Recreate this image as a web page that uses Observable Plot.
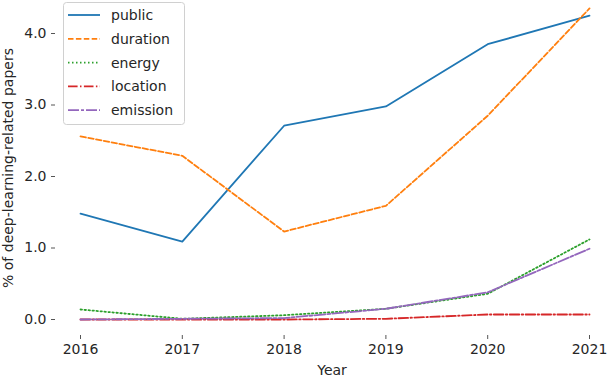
<!DOCTYPE html>
<html><head><meta charset="utf-8">
<script src="https://cdn.jsdelivr.net/npm/d3@7"></script>
<script src="https://cdn.jsdelivr.net/npm/@observablehq/plot@0.6"></script>
<style>
body{margin:0;background:#fff}
#chart{position:relative;width:608px;height:376px;overflow:hidden}
#legend{position:absolute;left:63px;top:2px}
</style>
</head><body><div id="chart"></div>
<script>
const years = [2016, 2017, 2018, 2019, 2020, 2021];
const seriesNames = ["public", "duration", "energy", "location", "emission"];
const publicVals   = [1.48, 1.09, 2.71, 2.98, 3.85, 4.25];
const durationVals = [2.56, 2.29, 1.23, 1.59, 2.85, 4.35];
const energyVals   = [0.14, 0.01, 0.06, 0.15, 0.36, 1.12];
const locationVals = [0.00, 0.00, 0.00, 0.01, 0.07, 0.07];
const emissionVals = [0.00, 0.01, 0.02, 0.15, 0.38, 0.99];
const yTicks = [0, 1, 2, 3, 4];
const colors = ["#1f77b4", "#ff7f0e", "#2ca02c", "#d62728", "#9467bd"];
const dashes = [null, "5.5,2.4", "1.5,2.5", "9.6,2.4,1.5,2.4", "11,2,3,2"];
const xLabel = "Year";
const yLabel = "% of deep-learning-related papers";

const valueArrays = [publicVals, durationVals, energyVals, locationVals, emissionVals];
const data = [];
seriesNames.forEach((s, i) => years.forEach((yr, j) => data.push({series: s, year: yr, value: valueArrays[i][j]})));

const font = "DejaVu Sans";
const plot = Plot.plot({
  width: 608, height: 376,
  marginLeft: 55, marginBottom: 41, marginTop: 0, marginRight: 0,
  style: {fontFamily: font, fontSize: "14px", color: "#262626", background: "white"},
  x: {domain: [2016, 2021], range: [80, 589]},
  y: {domain: [0, 4], range: [319, 33]},
  marks: [
    Plot.axisX({ticks: years, tickFormat: d => String(d), tickSize: 4, tickPadding: 5, stroke: "#555",
      label: xLabel, labelAnchor: "center", labelArrow: "none", labelOffset: 39, fontSize: 14}),
    Plot.axisY({ticks: yTicks, tickFormat: d3.format(".1f"), tickSize: 4, tickPadding: 5, stroke: "#555",
      label: yLabel, labelAnchor: "center", labelArrow: "none", labelOffset: 52, fontSize: 14}),
    ...seriesNames.map((s, i) => Plot.line(data.filter(d => d.series === s), {
      x: "year", y: "value", stroke: colors[i], strokeWidth: 1.8,
      strokeDasharray: dashes[i] || undefined
    }))
  ]
});
const chart = document.getElementById("chart");
chart.appendChild(plot);

// legend
const lg = d3.select(chart).append("svg").attr("id", "legend").attr("width", 124).attr("height", 125);
lg.append("rect").attr("x", 0.5).attr("y", 0.5).attr("width", 121).attr("height", 122).attr("rx", 3)
  .attr("fill", "rgba(255,255,255,0.8)").attr("stroke", "#d0d0d0");
seriesNames.forEach((s, i) => {
  const cy = 13 + i * 23.8;
  lg.append("line").attr("x1", 5).attr("x2", 37).attr("y1", cy).attr("y2", cy)
    .attr("stroke", colors[i]).attr("stroke-width", 1.8).attr("stroke-dasharray", dashes[i]);
  lg.append("text").attr("x", 48).attr("y", cy).attr("dy", "0.35em")
    .attr("font-family", font).attr("font-size", 14).attr("fill", "#262626").text(s);
});
</script>
</body></html>
